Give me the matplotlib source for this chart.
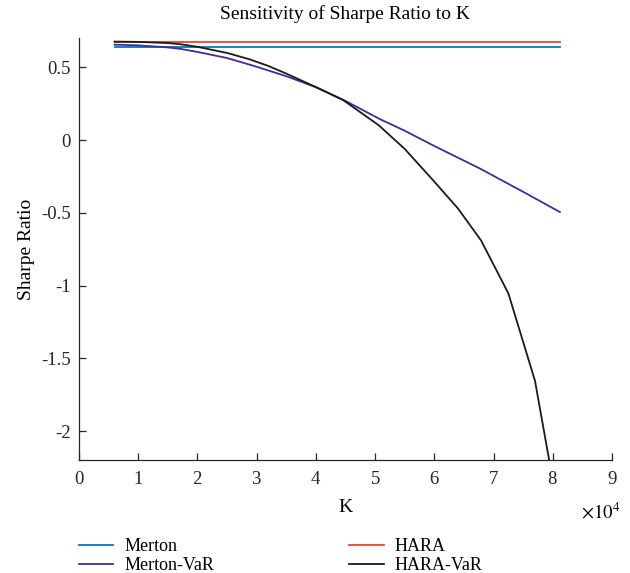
import numpy as np
import matplotlib
matplotlib.use("Agg")
from matplotlib import pyplot as plt
from matplotlib.ticker import ScalarFormatter

plt.rcParams['font.family'] = ['Liberation Serif', 'DejaVu Serif']
plt.rcParams['mathtext.fontset'] = 'stix'
plt.rcParams['font.size'] = 13.5

# data (K in units of 1)
k_flat = [6000, 81200]
merton = [0.638, 0.638]
hara = [0.678, 0.678]

k_mvar = [6000, 10000, 15000, 17100, 20000, 25000, 30000, 35000, 40100,
          45000, 50800, 55000, 60000, 67700, 75000, 81200]
merton_var = [0.657, 0.652, 0.638, 0.628, 0.607, 0.565, 0.505, 0.44, 0.363,
              0.27, 0.145, 0.065, -0.04, -0.195, -0.355, -0.494]

k_hvar = [6000, 10000, 15000, 17100, 20000, 25000, 28900, 32000, 35000, 40100,
          44600, 50600, 55000, 59800, 64000, 67900, 72500, 77000, 81500]
hara_var = [0.678, 0.676, 0.668, 0.66, 0.642, 0.6, 0.555, 0.51, 0.458, 0.363,
            0.276, 0.103, -0.06, -0.276, -0.47, -0.69, -1.053, -1.655, -2.68]

fig = plt.figure(figsize=(6.3, 5.73), dpi=100)
ax = fig.add_axes([0.1254, 0.197, 0.8460, 0.736])

ax.plot(k_flat, merton, color='#0a74bd', lw=1.3, label='Merton')
ax.plot(k_mvar, merton_var, color='#3b2e9c', lw=1.3, label='Merton-VaR')
ax.plot(k_flat, hara, color='#e8472e', lw=1.3, label='HARA')
ax.plot(k_hvar, hara_var, color='#1a1a1a', lw=1.3, label='HARA-VaR')

ax.set_xlim(0, 90000)
ax.set_ylim(-2.2, 0.7)
ax.set_xticks(np.arange(0, 90001, 10000))
ax.set_yticks([-2, -1.5, -1, -0.5, 0, 0.5])
ax.set_yticklabels(['-2', '-1.5', '-1', '-0.5', '0', '0.5'])

fmt = ScalarFormatter(useMathText=True)
fmt.set_powerlimits((0, 0))
ax.xaxis.set_major_formatter(fmt)
ax.xaxis.get_offset_text().set_visible(False)
fig.text(0.985, 1 - 512 / 573, r'$\times10^4$', ha='right', va='center', fontsize=13.5)

for s in ['top', 'right']:
    ax.spines[s].set_visible(False)
for s in ['left', 'bottom']:
    ax.spines[s].set_color('#262626')
    ax.spines[s].set_linewidth(0.9)
ax.tick_params(direction='in', length=5, width=0.9, colors='#262626', labelsize=13.5)
ax.tick_params(axis='x', pad=8)
ax.tick_params(axis='y', pad=6)

ax.set_title('Sensitivity of Sharpe Ratio to K', fontsize=14, pad=14)
ax.set_xlabel('K', fontsize=14, labelpad=8)
ax.set_ylabel('Sharpe Ratio', fontsize=14, labelpad=4)

fig.legend(handles=ax.get_lines(), loc='center left', bbox_to_anchor=(79 / 630, 1 - 556 / 573),
           ncol=2, frameon=False, fontsize=13, handlelength=1.9, columnspacing=7.5,
           labelspacing=0.12, handletextpad=0.6, borderpad=0, borderaxespad=0)

fig.savefig('out.png', dpi=100)
